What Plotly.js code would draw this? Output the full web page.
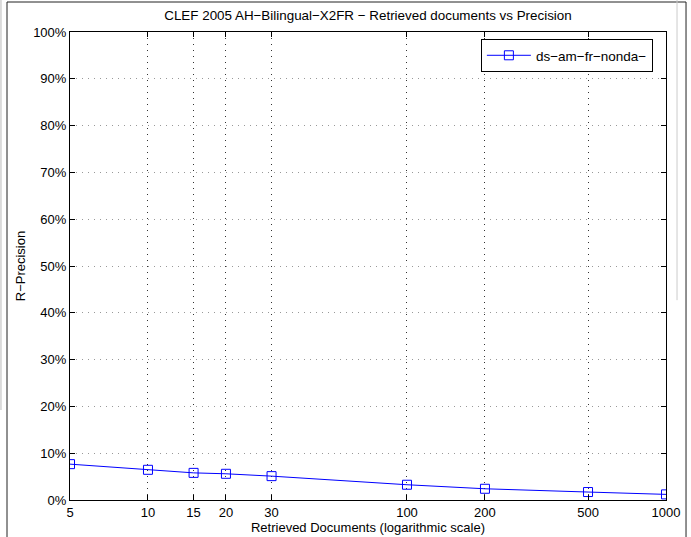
<!DOCTYPE html>
<html>
<head>
<meta charset="utf-8">
<script src="https://cdn.plot.ly/plotly-3.0.1.min.js"></script>
<style>html,body{margin:0;padding:0;background:#fff;}#chart{width:691px;height:537px;}</style>
</head>
<body>
<div id="chart"></div>
<script>
const docs = [5, 10, 15, 20, 30, 100, 200, 500, 1000];
const precision = [7.66, 6.45, 5.8, 5.6, 5.1, 3.26, 2.4, 1.7, 1.2];
const seriesName = "ds\u2212am\u2212fr\u2212nonda\u2212";
const xTickVals = [5, 10, 15, 20, 30, 100, 200, 500, 1000];
const yTickVals = [0, 10, 20, 30, 40, 50, 60, 70, 80, 90, 100];
const yTickText = yTickVals.map(v => v + "%");

const trace = {
  x: docs, y: precision, type: "scatter", mode: "lines+markers", name: seriesName,
  line: {color: "#0000ff", width: 1},
  marker: {symbol: "square-open", size: 9, color: "#0000ff", line: {width: 1}}
};
const fam = "Liberation Sans, Arial, sans-serif";
const font = {family: fam, size: 13, color: "#000"};
const layout = {
  width: 691, height: 537,
  margin: {l: 70, r: 25, t: 32, b: 37},
  paper_bgcolor: "#fff", plot_bgcolor: "#fff",
  font: font,
  title: {text: "CLEF 2005 AH\u2212Bilingual\u2212X2FR \u2212 Retrieved documents vs Precision",
          font: {family: fam, size: 13.4, color: "#000"}, x: 0.5, xref: "paper", xanchor: "center", y: 0.971, yanchor: "middle"},
  xaxis: {
    type: "log", range: [Math.log10(5), Math.log10(1000)],
    tickvals: xTickVals, ticktext: xTickVals.map(String),
    showgrid: true, gridcolor: "#333", griddash: "1px,5px", gridwidth: 1,
    ticks: "inside", ticklen: 5, tickcolor: "#000",
    showline: true, linecolor: "#000", linewidth: 1, mirror: "ticks",
    zeroline: false, tickfont: {family: fam, size: 13, color: "#000"},
    title: {text: "Retrieved Documents (logarithmic scale)", font: {family: fam, size: 13, color: "#000"}, standoff: 3}
  },
  yaxis: {
    range: [0, 100], tickvals: yTickVals, ticktext: yTickText,
    showgrid: true, gridcolor: "#999", griddash: "1px,5px", gridwidth: 1,
    ticks: "inside", ticklen: 5, tickcolor: "#000",
    showline: true, linecolor: "#000", linewidth: 1, mirror: "ticks",
    zeroline: false, tickfont: {family: fam, size: 13, color: "#000"},
    title: {text: "R\u2212Precision", font: {family: fam, size: 13, color: "#000"}, standoff: 4}
  },
  showlegend: true,
  legend: {x: 0.978, y: 0.985, xanchor: "right", yanchor: "top",
           bgcolor: "#fff", bordercolor: "#000", borderwidth: 1, itemwidth: 44,
           font: {family: fam, size: 13.5, color: "#000"}},
  shapes: [
    {type: "rect", xref: "paper", yref: "paper", x0: -0.1057, x1: 1.0336, y0: -0.12, y1: 1.0641,
     line: {color: "#222", width: 1}, fillcolor: "rgba(0,0,0,0)"},
    {type: "line", xref: "paper", yref: "paper", x0: -0.1158, x1: -0.1158, y0: 0.1923, y1: 1.08,
     line: {color: "#bbb", width: 1}},
    {type: "line", xref: "paper", yref: "paper", x0: 1.0185, x1: 1.0185, y0: 0.427, y1: 1.08,
     line: {color: "#ccc", width: 1}}
  ]
};
Plotly.newPlot("chart", [trace], layout, {displayModeBar: false, staticPlot: true});
</script>
</body>
</html>
